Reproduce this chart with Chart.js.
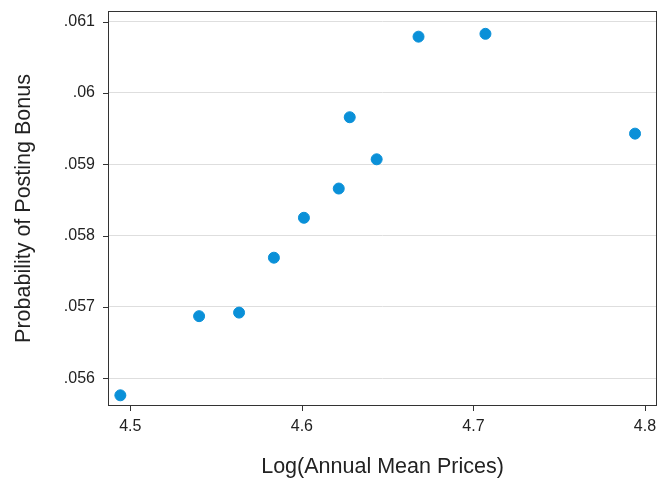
<!DOCTYPE html>
<html>
<head>
<meta charset="utf-8">
<script src="https://cdn.jsdelivr.net/npm/chart.js@4"></script>
<style>
  body { margin: 0; background: #fff; }
  canvas { display: block; }
</style>
</head>
<body>
<canvas id="myChart" width="659" height="478"></canvas>
<script>
// data
const logPrices = [4.4942, 4.5401, 4.5634, 4.5837, 4.6012, 4.6215, 4.6279, 4.6436, 4.6680, 4.7070, 4.7942];
const bonusProb = [0.05576, 0.05687, 0.05692, 0.05769, 0.05825, 0.05866, 0.05966, 0.05907, 0.06079, 0.06083, 0.05943];
const xTicks = [4.5, 4.6, 4.7, 4.8];
const yTicks = [0.056, 0.057, 0.058, 0.059, 0.060, 0.061];

const points = logPrices.map((x, i) => ({ x: x, y: bonusProb[i] }));

//~==== dark box + outside tick marks ====~//
const frame = {
  id: "frame",
  afterDraw(chart) {
    const c = chart.ctx;
    const a = chart.chartArea;
    const xs = chart.scales.x;
    const ys = chart.scales.y;
    c.save();
    c.strokeStyle = "#333";
    c.lineWidth = 1;
    c.strokeRect(a.left + 0.5, a.top + 0.5, a.right - a.left - 1, a.bottom - a.top - 1);
    c.beginPath();
    yTicks.forEach(v => {
      const y = Math.round(ys.getPixelForValue(v)) + 0.5;
      c.moveTo(a.left - 5, y);
      c.lineTo(a.left, y);
    });
    xTicks.forEach(v => {
      const x = Math.round(xs.getPixelForValue(v)) + 0.5;
      c.moveTo(x, a.bottom);
      c.lineTo(x, a.bottom + 5);
    });
    c.stroke();
    c.restore();
  }
};

const font = "Liberation Sans, Arial";
const ctx = document.getElementById("myChart");
new Chart(ctx, {
  type: "scatter",
  data: {
    datasets: [{
      data: points,
      backgroundColor: "#0a90d8",
      borderColor: "#0a90d8",
      pointRadius: 5.5,
      pointHoverRadius: 5.5
    }]
  },
  options: {
    responsive: false,
    animation: false,
    layout: { autoPadding: false, padding: { top: 11, right: 2, left: 0, bottom: 0 } },
    plugins: { legend: { display: false }, tooltip: { enabled: false } },
    scales: {
      x: {
        type: "linear",
        min: 4.487,
        max: 4.807,
        afterBuildTicks: s => { s.ticks = xTicks.map(v => ({ value: v })); },
        afterFit: s => { s.height = 72; s.paddingLeft = 0; s.paddingRight = 0; },
        grid: { drawOnChartArea: false, drawTicks: false },
        border: { display: false },
        ticks: {
          padding: 11,
          color: "#222",
          font: { family: font, size: 16 },
          callback: v => v.toFixed(1)
        },
        title: {
          display: true,
          text: "Log(Annual Mean Prices)",
          color: "#222",
          padding: { top: 0, bottom: 0 },
          font: { family: font, size: 21.5, lineHeight: 1.05 }
        }
      },
      y: {
        min: 0.05561,
        max: 0.06115,
        afterBuildTicks: s => { s.ticks = yTicks.map(v => ({ value: v })); },
        afterFit: s => { s.width = 108; s.paddingTop = 0; s.paddingBottom = 0; },
        grid: { color: "#dedede", drawTicks: false },
        border: { display: false },
        ticks: {
          padding: 13,
          color: "#222",
          font: { family: font, size: 16 },
          callback: v => String(+v.toFixed(3)).replace(/^0/, "")
        },
        title: {
          display: true,
          text: "Probability of Posting Bonus",
          color: "#222",
          padding: { top: 11, bottom: 0 },
          font: { family: font, size: 21.5 }
        }
      }
    }
  },
  plugins: [frame]
});
</script>
</body>
</html>
